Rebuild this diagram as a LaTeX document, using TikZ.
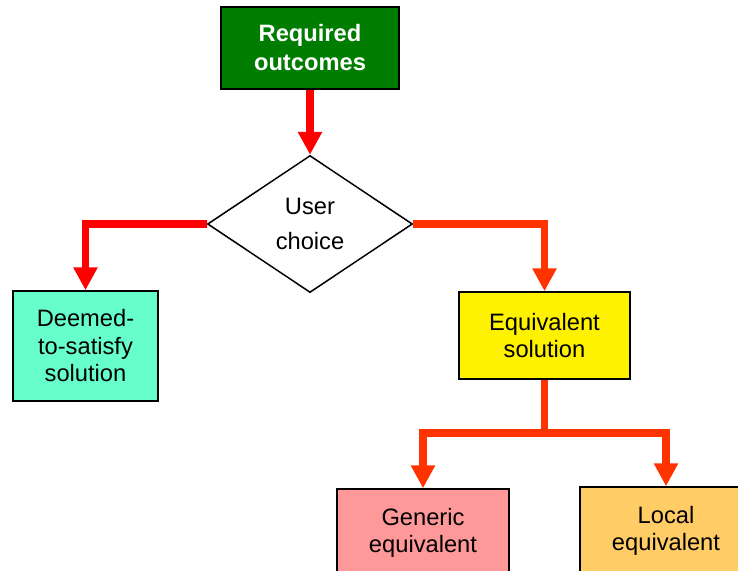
\documentclass[tikz,border=0pt]{standalone}
\usepackage{fontspec}
\setmainfont{Liberation Sans}
\usetikzlibrary{arrows.meta,shapes.geometric}

\begin{document}
\begin{tikzpicture}[
    x=1pt, y=-1pt,
    box/.style={rectangle, draw, line width=1.5pt, align=center, inner sep=0pt,
        font=\fontsize{23.7}{27.5}\selectfont},
    choicebox/.style={diamond, draw, line width=1.5pt, align=center, inner sep=0pt,
        minimum width=205pt, minimum height=137pt, font=\fontsize{23.7}{35}\selectfont},
    arr/.style={line width=7.5pt, line join=miter, draw=red,
        -{Triangle[width=23pt, length=23pt]}},
    arrR/.style={arr, draw=orangered}
]
\definecolor{outgreen}{RGB}{0,125,0}
\definecolor{orangered}{RGB}{255,51,0}
\definecolor{dtsfill}{RGB}{102,255,204}
\definecolor{genfill}{RGB}{255,153,153}
\definecolor{locfill}{RGB}{255,204,102}

\useasboundingbox (0,0) rectangle (738,570);
\clip (0,0) rectangle (738,570);

% Start
\node[box, fill=outgreen, text=white, font=\bfseries\fontsize{23.7}{29}\selectfont,
    minimum width=178pt, minimum height=82pt] (req) at (310, 48) {Required\\outcomes};

% Choice
\node[choicebox] (choice) at (310, 224) {User\\choice};

% Solutions
\node[box, fill=dtsfill, minimum width=145pt, minimum height=110pt] (dts) at (85.5, 346) {Deemed-\\to-satisfy\\solution};
\node[box, fill=yellow, minimum width=171pt, minimum height=87pt] (equiv) at (544.5, 335.5) {Equivalent\\solution};

% Equivalents
\node[box, fill=genfill, minimum width=172pt, minimum height=88pt] (gen) at (423, 533) {Generic\\equivalent};
\node[box, fill=locfill, minimum width=172pt, minimum height=88pt] (loc) at (666, 531) {Local\\equivalent};
\coordinate (split) at (544.5, 433);

% Arrows
\draw[arr] (req) -- (choice);
\draw[arr] (choice.west) -| (dts.north);
\draw[arrR] (choice.east) -| (equiv.north);
\draw[arrR] (equiv.south) -- (split) -| (gen.north);
\draw[arrR] (split) -| (loc.north);
\end{tikzpicture}
\end{document}
